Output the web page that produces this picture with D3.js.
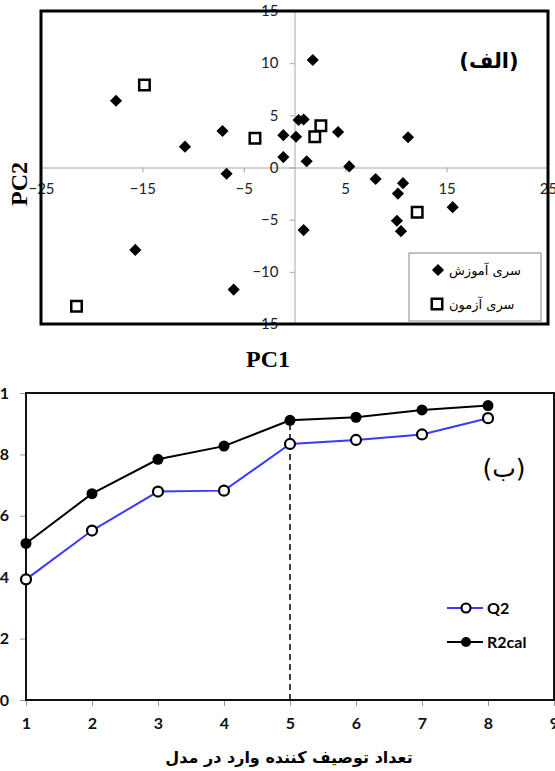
<!DOCTYPE html>
<html>
<head>
<meta charset="utf-8">
<script src="https://cdn.jsdelivr.net/npm/d3@7"></script>
<style>
  body { margin: 0; background: #fff; }
  svg { display: block; }
</style>
</head>
<body>
<svg id="chart" width="555" height="771"></svg>
<script>
// --- top panel (الف): PCA scores
const trainPC1 = [-17.6, -10.8, -7.1, -6.7, 1.8, 0.4, 0.9, -1.1, 0.15, 4.3, 11.2, -1.1, 1.2, 5.4, -15.7, -6.0, 8.0, 10.7, 10.2, 15.6, 0.9, 10.1, 10.5];
const trainPC2 = [6.4, 2.0, 3.5, -0.6, 10.3, 4.55, 4.6, 3.1, 2.95, 3.4, 2.9, 1.0, 0.6, 0.1, -7.9, -11.7, -1.1, -1.5, -2.5, -3.8, -6.0, -5.1, -6.1];
const testPC1 = [-14.8, -3.9, 2.6, 2.0, 12.1, -21.5];
const testPC2 = [7.9, 2.8, 4.0, 2.95, -4.3, -13.3];
const pcTicksX = [-25, -15, -5, 5, 15, 25];
const pcTicksY = [-15, -10, -5, 0, 5, 10, 15];
const seriesNames = ["سری آموزش", "سری آزمون"];

// --- bottom panel (ب): model statistics vs number of descriptors
const descCount = [1, 2, 3, 4, 5, 6, 7, 8];
const q2 = [0.393, 0.552, 0.679, 0.682, 0.834, 0.847, 0.865, 0.918];
const r2cal = [0.510, 0.672, 0.784, 0.827, 0.911, 0.921, 0.945, 0.959];
const countTicks = [1, 2, 3, 4, 5, 6, 7, 8, 9];
const statTicks = [0, 0.2, 0.4, 0.6, 0.8, 1];
const chosenCount = 5;

const svg = d3.select("#chart");
const arabicFont = "'DejaVu Sans', sans-serif";
const numFont = "Lato, 'Open Sans', sans-serif";

// ================= top chart =================
const pcaPanel = svg.append("g");
const px = d3.scaleLinear().domain([-25, 25]).range([41, 548]);
const py = d3.scaleLinear().domain([-15, 15]).range([324, 11]);

const xAxisTop = pcaPanel.append("g")
  .attr("transform", `translate(0,${py(0)})`)
  .call(d3.axisBottom(px).tickValues(pcTicksX).tickSize(5).tickSizeOuter(0).tickPadding(11));
const yAxisTop = pcaPanel.append("g")
  .attr("transform", `translate(${px(0)},0)`)
  .call(d3.axisLeft(py).tickValues(pcTicksY).tickSize(5).tickSizeOuter(0).tickPadding(11));

[xAxisTop, yAxisTop].forEach(ax => {
  ax.select(".domain").attr("stroke", "#a6a6a6");
  ax.selectAll(".tick line").attr("stroke", "#a6a6a6");
  ax.selectAll(".tick text").attr("font-family", numFont).attr("font-size", 15).attr("fill", "#222");
});

pcaPanel.append("rect")
  .attr("x", 41).attr("y", 11).attr("width", 507).attr("height", 313)
  .attr("fill", "none").attr("stroke", "#000").attr("stroke-width", 3);

const diamond = d3.symbol(d3.symbolSquare, 74);
const square = d3.symbol(d3.symbolSquare, 110);

pcaPanel.append("g").selectAll("path")
  .data(trainPC1.map((v, i) => [v, trainPC2[i]]))
  .join("path")
  .attr("d", diamond)
  .attr("transform", d => `translate(${px(d[0])},${py(d[1])}) rotate(45)`)
  .attr("fill", "#000");

pcaPanel.append("g").selectAll("path")
  .data(testPC1.map((v, i) => [v, testPC2[i]]))
  .join("path")
  .attr("d", square)
  .attr("transform", d => `translate(${px(d[0])},${py(d[1])})`)
  .attr("fill", "#fff").attr("stroke", "#000").attr("stroke-width", 2.5);

pcaPanel.append("text")
  .attr("x", 489).attr("y", 68)
  .attr("text-anchor", "middle")
  .attr("font-family", arabicFont).attr("font-size", 21).attr("font-weight", "bold")
  .text("(الف)");

// legend
const lg = pcaPanel.append("g");
lg.append("rect")
  .attr("x", 409).attr("y", 253).attr("width", 132).attr("height", 68)
  .attr("fill", "#fff").attr("stroke", "#888").attr("stroke-width", 1);
lg.append("path").attr("d", diamond)
  .attr("transform", "translate(438,270) rotate(45)").attr("fill", "#000");
lg.append("path").attr("d", square)
  .attr("transform", "translate(437,304)")
  .attr("fill", "#fff").attr("stroke", "#000").attr("stroke-width", 2.5);
seriesNames.forEach((name, i) => {
  lg.append("text")
    .attr("x", 449).attr("y", 275 + i * 34)
    .attr("font-family", arabicFont).attr("font-size", 13)
    .text(name);
});

pcaPanel.append("text")
  .attr("x", 268).attr("y", 367)
  .attr("text-anchor", "middle")
  .attr("font-family", "'Liberation Serif', serif").attr("font-weight", "bold").attr("font-size", 24)
  .text("PC1");
pcaPanel.append("text")
  .attr("transform", "translate(27,184) rotate(-90)")
  .attr("text-anchor", "middle")
  .attr("font-family", "'Liberation Serif', serif").attr("font-weight", "bold").attr("font-size", 24)
  .text("PC2");

// ================= bottom chart =================
const statPanel = svg.append("g");
const bx = d3.scaleLinear().domain([1, 9]).range([26, 554]);
const by = d3.scaleLinear().domain([0, 1]).range([700, 393]);

const xAxisBot = statPanel.append("g")
  .attr("transform", `translate(0,${by(0)})`)
  .call(d3.axisBottom(bx).tickValues(countTicks).tickSize(6).tickSizeOuter(0).tickPadding(12).tickFormat(d3.format("d")));
const yAxisBot = statPanel.append("g")
  .attr("transform", `translate(${bx(1)},0)`)
  .call(d3.axisLeft(by).tickValues(statTicks).tickSize(6).tickSizeOuter(0).tickPadding(11)
    .tickFormat(d => (d === 0 || d === 1) ? String(d) : d.toFixed(1)));

[xAxisBot, yAxisBot].forEach(ax => {
  ax.select(".domain").remove();
  ax.selectAll(".tick line").attr("stroke", "#999");
  ax.selectAll(".tick text").attr("font-family", numFont).attr("font-size", 16)
    .attr("font-weight", "bold").attr("fill", "#111");
});

statPanel.append("rect")
  .attr("x", 26).attr("y", 393).attr("width", 528).attr("height", 307)
  .attr("fill", "none").attr("stroke", "#111").attr("stroke-width", 2);

// dashed marker at chosen model size
statPanel.append("line")
  .attr("x1", bx(chosenCount)).attr("x2", bx(chosenCount))
  .attr("y1", by(0)).attr("y2", by(r2cal[descCount.indexOf(chosenCount)]))
  .attr("stroke", "#000").attr("stroke-width", 1.5).attr("stroke-dasharray", "6,4");

const line = d3.line().x(d => bx(d[0])).y(d => by(d[1]));
const r2Pts = descCount.map((c, i) => [c, r2cal[i]]);
const q2Pts = descCount.map((c, i) => [c, q2[i]]);

statPanel.append("path").datum(r2Pts).attr("d", line)
  .attr("fill", "none").attr("stroke", "#000").attr("stroke-width", 2);
statPanel.append("path").datum(q2Pts).attr("d", line)
  .attr("fill", "none").attr("stroke", "#3a3aff").attr("stroke-width", 2);

statPanel.append("g").selectAll("circle").data(r2Pts).join("circle")
  .attr("cx", d => bx(d[0])).attr("cy", d => by(d[1])).attr("r", 5.5)
  .attr("fill", "#000");
statPanel.append("g").selectAll("circle").data(q2Pts).join("circle")
  .attr("cx", d => bx(d[0])).attr("cy", d => by(d[1])).attr("r", 5)
  .attr("fill", "#fff").attr("stroke", "#000").attr("stroke-width", 2.2);

statPanel.append("text")
  .attr("x", 504).attr("y", 477)
  .attr("text-anchor", "middle")
  .attr("font-family", arabicFont).attr("font-size", 25)
  .text("(ب)");

// legend
const lg2 = statPanel.append("g");
lg2.append("line").attr("x1", 447).attr("x2", 483).attr("y1", 608).attr("y2", 608)
  .attr("stroke", "#3a3aff").attr("stroke-width", 2);
lg2.append("circle").attr("cx", 466).attr("cy", 608).attr("r", 4.5)
  .attr("fill", "#fff").attr("stroke", "#000").attr("stroke-width", 2.2);
lg2.append("line").attr("x1", 447).attr("x2", 483).attr("y1", 642).attr("y2", 642)
  .attr("stroke", "#000").attr("stroke-width", 2);
lg2.append("circle").attr("cx", 466).attr("cy", 642).attr("r", 5)
  .attr("fill", "#000");
["Q2", "R2cal"].forEach((name, i) => {
  lg2.append("text")
    .attr("x", 487).attr("y", 614 + i * 34)
    .attr("font-family", numFont).attr("font-size", 16).attr("font-weight", "bold")
    .text(name);
});

statPanel.append("text")
  .attr("x", 289).attr("y", 763)
  .attr("text-anchor", "middle")
  .attr("font-family", arabicFont).attr("font-size", 16).attr("font-weight", "bold")
  .text("تعداد توصیف کننده وارد در مدل");
</script>
</body>
</html>
